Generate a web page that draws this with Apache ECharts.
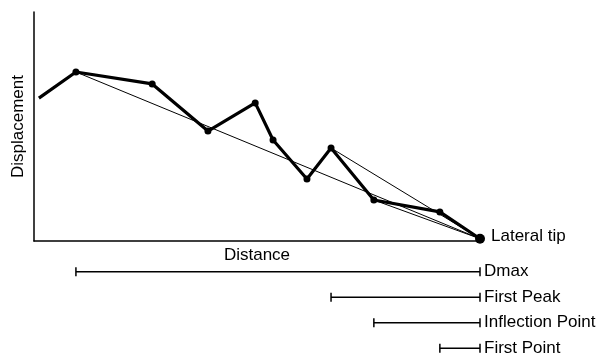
<!DOCTYPE html>
<html>
<head>
<meta charset="utf-8">
<script src="https://cdn.jsdelivr.net/npm/echarts@6/dist/echarts.min.js"></script>
<style>
  html, body { margin: 0; padding: 0; background: #ffffff; }
  #chart { width: 604px; height: 361px; }
</style>
</head>
<body>
<div id="chart"></div>
<script>
// Displacement profile along the distance towards the lateral tip
const distance     = [1.1, 9.4, 26.5, 39.0, 49.6, 53.6, 61.2, 66.6, 76.2, 91.0, 100];
const displacement = [62.4, 73.8, 68.6, 48.0, 60.3, 44.1, 27.1, 40.6, 17.9, 12.7, 1];
const tipLabel = 'Lateral tip';

// Measurement methods: the profile point each one starts from (index into the arrays above)
const methods = ['Dmax', 'First Peak', 'Inflection Point', 'First Point'];
const methodStartIndex = [1, 7, 8, 9];

const FONT = '"Liberation Sans", Arial, sans-serif';
const FS = 17;
const tipIndex = distance.length - 1;
const profile = distance.map((d, i) => [d, displacement[i]]);

// Straight chords from each method's start point to the tip
const chordSeries = methods.map((m, k) => {
  const s = methodStartIndex[k];
  return {
    type: 'line',
    name: m + ' chord',
    xAxisIndex: 0, yAxisIndex: 0,
    data: [[distance[s], displacement[s]], [distance[tipIndex], displacement[tipIndex]]],
    symbol: 'none',
    lineStyle: { color: '#000', width: 1 },
    z: 2,
    silent: true
  };
});

// Range bars below the plot: [start distance, end distance, method]
const rangeData = methods.map((m, k) => [distance[methodStartIndex[k]], distance[tipIndex], m]);

const chart = echarts.init(document.getElementById('chart'), null, { renderer: 'canvas' });
chart.setOption({
  animation: false,
  backgroundColor: '#ffffff',
  grid: [
    { left: 34, top: 12, width: 446, height: 229 },
    { left: 34, top: 259, width: 446, height: 104 }
  ],
  xAxis: [
    {
      gridIndex: 0, type: 'value', min: 0, max: 100,
      name: 'Distance', nameLocation: 'middle', nameGap: 6,
      nameTextStyle: { color: '#000', fontSize: FS, fontFamily: FONT, verticalAlign: 'top' },
      axisLine: { show: true, lineStyle: { color: '#000', width: 1.5 } },
      axisTick: { show: false }, axisLabel: { show: false }, splitLine: { show: false }
    },
    {
      gridIndex: 1, type: 'value', min: 0, max: 100, show: false
    }
  ],
  yAxis: [
    {
      gridIndex: 0, type: 'value', min: 0, max: 100,
      name: 'Displacement', nameLocation: 'middle', nameGap: 7,
      nameTextStyle: { color: '#000', fontSize: FS, fontFamily: FONT },
      axisLine: { show: true, lineStyle: { color: '#000', width: 1.5 } },
      axisTick: { show: false }, axisLabel: { show: false }, splitLine: { show: false }
    },
    {
      gridIndex: 1, type: 'category', data: methods, inverse: true, show: false
    }
  ],
  series: [
    ...chordSeries,
    {
      type: 'line',
      name: 'Profile',
      xAxisIndex: 0, yAxisIndex: 0,
      data: profile,
      symbol: 'circle',
      symbolSize: (v, p) => p.dataIndex === 0 ? 0 : (p.dataIndex === tipIndex ? 10 : 7),
      itemStyle: { color: '#000' },
      lineStyle: { color: '#000', width: 3.2 },
      label: {
        show: true,
        formatter: p => p.dataIndex === tipIndex ? tipLabel : '',
        position: 'right', distance: 6, offset: [0, -2],
        color: '#000', fontSize: FS, fontFamily: FONT
      },
      z: 3,
      silent: true
    },
    {
      type: 'custom',
      name: 'Ranges',
      xAxisIndex: 1, yAxisIndex: 1,
      data: rangeData,
      encode: { x: [0, 1], y: 2 },
      renderItem: (params, api) => {
        const row = api.value(2);
        const p0 = api.coord([api.value(0), row]);
        const p1 = api.coord([api.value(1), row]);
        const y = p0[1];
        const h = 4.5;
        const st = { stroke: '#000', lineWidth: 1.5 };
        return {
          type: 'group',
          children: [
            { type: 'line', shape: { x1: p0[0], y1: y, x2: p1[0], y2: y }, style: st },
            { type: 'line', shape: { x1: p0[0], y1: y - h, x2: p0[0], y2: y + h }, style: st },
            { type: 'line', shape: { x1: p1[0], y1: y - h, x2: p1[0], y2: y + h }, style: st },
            {
              type: 'text',
              x: p1[0] + 4, y: y,
              style: {
                text: methods[params.dataIndex], fill: '#000',
                font: FS + 'px ' + FONT, textAlign: 'left', textVerticalAlign: 'middle'
              }
            }
          ]
        };
      },
      silent: true
    }
  ]
});
</script>
</body>
</html>
